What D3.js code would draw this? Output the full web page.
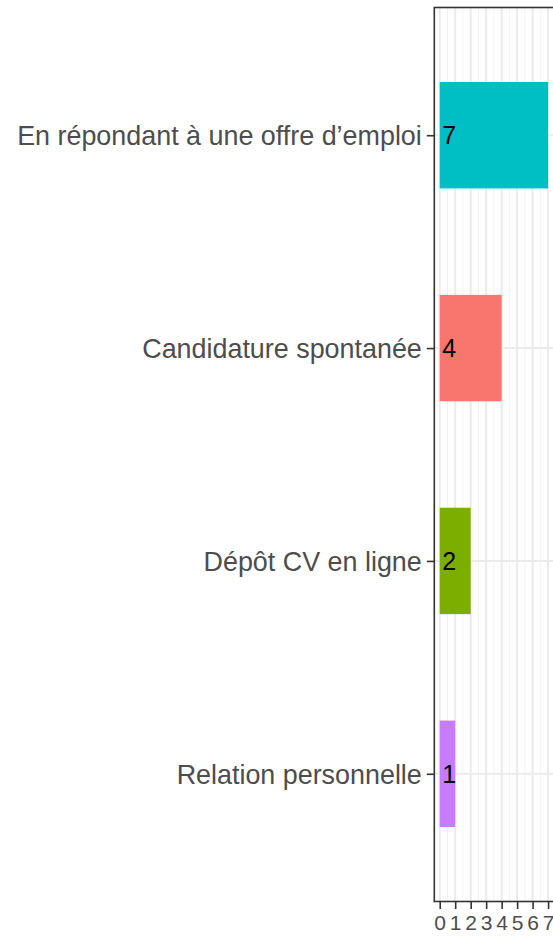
<!DOCTYPE html>
<html>
<head>
<meta charset="utf-8">
<script src="https://cdn.jsdelivr.net/npm/d3@7"></script>
<style>
  body { margin: 0; background: #fff; }
  svg { display: block; font-family: "Liberation Sans", Arial, sans-serif; }
</style>
</head>
<body>
<div id="chart"></div>
<script>
// data, top to bottom
var categories = ["En répondant à une offre d’emploi", "Candidature spontanée", "Dépôt CV en ligne", "Relation personnelle"];
var counts = [7, 4, 2, 1];
var colors = ["#00BFC4", "#F8766D", "#7CAE00", "#C77CFF"];
var xTicks = [0, 1, 2, 3, 4, 5, 6, 7];

var W = 553, H = 937;
var panel = {left: 434.3, top: 7.5, right: 553.5, bottom: 901.5};

var svg = d3.select("#chart")
    .append("svg")
        .attr("width", W)
        .attr("height", H);

var data = categories.map(function(c, i) {
    return {cat: c, n: counts[i], color: colors[i]};
});

// x scale with ggplot style expansion
var x = d3.scaleLinear()
    .domain([-0.35, 7.35])
    .range([panel.left, panel.right]);

var y = d3.scalePoint()
    .domain(categories)
    .range([panel.top, panel.bottom])
    .padding(0.6);

var barH = y.step() * 0.5;

// minor grid
var minor = d3.range(0.5, 7.5, 1);
svg.append("g").selectAll("line")
    .data(minor)
    .enter().append("line")
        .attr("x1", function(d) { return x(d); })
        .attr("x2", function(d) { return x(d); })
        .attr("y1", panel.top)
        .attr("y2", panel.bottom)
        .style("stroke", "#f2f2f2")
        .style("stroke-width", 1);

// major grid
svg.append("g").selectAll("line")
    .data(xTicks)
    .enter().append("line")
        .attr("x1", function(d) { return x(d); })
        .attr("x2", function(d) { return x(d); })
        .attr("y1", panel.top)
        .attr("y2", panel.bottom)
        .style("stroke", "#ebebeb")
        .style("stroke-width", 2);

svg.append("g").selectAll("line")
    .data(categories)
    .enter().append("line")
        .attr("x1", panel.left)
        .attr("x2", panel.right)
        .attr("y1", function(d) { return y(d); })
        .attr("y2", function(d) { return y(d); })
        .style("stroke", "#ebebeb")
        .style("stroke-width", 2);

// bars
svg.append("g").selectAll("rect")
    .data(data)
    .enter().append("rect")
        .attr("x", x(0))
        .attr("y", function(d) { return y(d.cat) - barH / 2; })
        .attr("width", function(d) { return x(d.n) - x(0); })
        .attr("height", barH)
        .style("fill", function(d) { return d.color; });

// value labels
svg.append("g").selectAll("text")
    .data(data)
    .enter().append("text")
        .attr("x", x(0) + 2.5)
        .attr("y", function(d) { return y(d.cat); })
        .attr("dy", "0.36em")
        .style("font-size", "25px")
        .style("fill", "#000")
        .text(function(d) { return d.n; });

// panel border
svg.append("rect")
    .attr("x", panel.left)
    .attr("y", panel.top)
    .attr("width", panel.right - panel.left + 5)
    .attr("height", panel.bottom - panel.top)
    .style("fill", "none")
    .style("stroke", "#333333")
    .style("stroke-width", 1.6);

// y axis
var yAxis = svg.append("g")
    .attr("transform", "translate(" + panel.left + ",0)")
    .call(d3.axisLeft(y).tickSize(7.5).tickPadding(5));
yAxis.select(".domain").remove();
yAxis.selectAll(".tick line").style("stroke", "#333333").style("stroke-width", 1.6);
yAxis.selectAll(".tick text")
    .attr("dy", "0.36em")
    .style("font-size", "26.9px")
    .style("font-family", "Liberation Sans, Arial, sans-serif")
    .style("fill", "#4d4d4d");

// x axis
var xAxis = svg.append("g")
    .attr("transform", "translate(0," + panel.bottom + ")")
    .call(d3.axisBottom(x).tickValues(xTicks).tickSize(7.5).tickPadding(6.5));
xAxis.select(".domain").remove();
xAxis.selectAll(".tick line").style("stroke", "#333333").style("stroke-width", 1.6);
xAxis.selectAll(".tick text")
    .style("font-size", "21px")
    .style("font-family", "Liberation Sans, Arial, sans-serif")
    .style("fill", "#4d4d4d");
</script>
</body>
</html>
